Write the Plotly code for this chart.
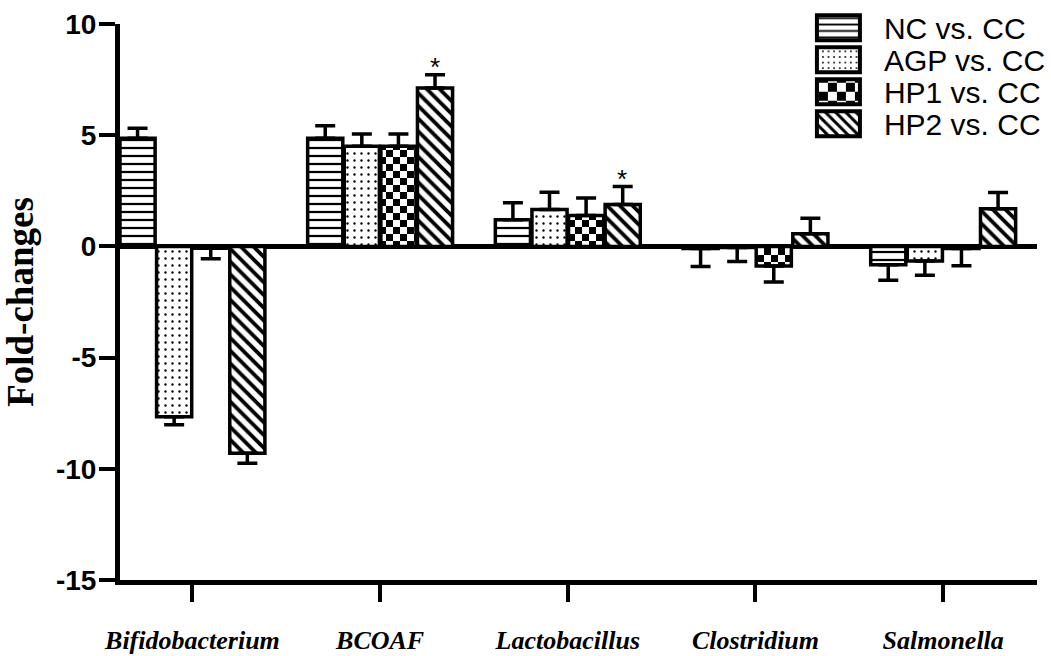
import plotly.graph_objects as go

# ---------------- data ----------------
categories = ["Bifidobacterium", "BCOAF", "Lactobacillus", "Clostridium", "Salmonella"]
series_names = ["NC vs. CC", "AGP vs. CC", "HP1 vs. CC", "HP2 vs. CC"]

nc_values = [4.86, 4.86, 1.20, -0.10, -0.82]
nc_errors = [0.45, 0.57, 0.76, 0.80, 0.70]

agp_values = [-7.66, 4.50, 1.66, -0.05, -0.66]
agp_errors = [0.36, 0.55, 0.77, 0.63, 0.64]

hp1_values = [-0.08, 4.50, 1.39, -0.88, -0.10]
hp1_errors = [0.47, 0.55, 0.79, 0.72, 0.77]

hp2_values = [-9.30, 7.12, 1.88, 0.57, 1.69]
hp2_errors = [0.45, 0.60, 0.81, 0.70, 0.73]

y_tick_values = [-15, -10, -5, 0, 5, 10]
y_tick_labels = ["-15", "-10", "-5", "0", "5", "10"]

# significance marks: (category, series index, mark)
significance_categories = ["BCOAF", "Lactobacillus"]
significance_series = [3, 3]
significance_marks = ["*", "*"]

# ---------------- styling ----------------
all_values = [nc_values, agp_values, hp1_values, hp2_values]
all_errors = [nc_errors, agp_errors, hp1_errors, hp2_errors]
pattern_styles = [
    dict(shape="-", size=8, solidity=0.28, fgcolor="#000000"),
    dict(shape=".", size=7, solidity=0.09, fgcolor="#000000"),
    dict(shape="+", size=8, solidity=0.3, fgcolor="#010101"),  # replaced by checkerboard below
    dict(shape="\\", size=9, solidity=0.42, fgcolor="#000000"),
]

fig = go.Figure()
for name, vals, errs, pat in zip(series_names, all_values, all_errors, pattern_styles):
    plus = [e if v >= 0 else 0 for v, e in zip(vals, errs)]
    minus = [e if v < 0 else 0 for v, e in zip(vals, errs)]
    fig.add_trace(go.Bar(
        name=name,
        x=categories,
        y=vals,
        marker=dict(
            color="#ffffff",
            line=dict(color="#000000", width=3.5),
            pattern=dict(fillmode="replace", bgcolor="#ffffff", **pat),
        ),
        error_y=dict(
            type="data", symmetric=False, array=plus, arrayminus=minus,
            color="#000000", thickness=3.5, width=10, visible=True,
        ),
    ))

# significance stars above the error bars
bar_slot_px = 36.3
for cat, si, mark in zip(significance_categories, significance_series, significance_marks):
    ci = categories.index(cat)
    top = all_values[si][ci] + all_errors[si][ci]
    fig.add_annotation(
        x=cat, y=top, xref="x", yref="y", text=mark, showarrow=False,
        xanchor="center", yanchor="bottom",
        xshift=(si - 1.5) * bar_slot_px, yshift=-9,
        font=dict(family="Liberation Sans, Arial", size=26, color="#000000"),
    )

fig.update_layout(
    width=1051, height=656,
    margin=dict(l=120, r=14, t=24, b=76, autoexpand=False),
    paper_bgcolor="#ffffff", plot_bgcolor="#ffffff",
    barmode="group", bargap=0.22, bargroupgap=0.04,
    showlegend=True,
    legend=dict(
        x=0.76, y=1.04, xanchor="left", yanchor="top",
        bgcolor="rgba(0,0,0,0)", borderwidth=0,
        font=dict(family="Liberation Sans, Arial", size=30, color="#000000"),
        traceorder="normal",
    ),
    font=dict(family="Liberation Sans, Arial", color="#000000"),
)

fig.update_xaxes(
    range=[-0.386, 4.5],
    showline=True, linecolor="#000000", linewidth=5,
    ticks="outside", ticklen=17, tickwidth=4, tickcolor="#000000",
    tickfont=dict(family="Liberation Serif, Times New Roman", size=26, weight="bold", style="italic", color="#000000"),
    ticklabelstandoff=16,
    showgrid=False, zeroline=False, fixedrange=True,
)

fig.update_yaxes(
    range=[-15, 10],
    tickmode="array", tickvals=y_tick_values, ticktext=y_tick_labels,
    showline=True, linecolor="#000000", linewidth=5,
    ticks="outside", ticklen=16, tickwidth=4, tickcolor="#000000",
    tickfont=dict(family="Liberation Sans, Arial", size=28, weight="bold", color="#000000"),
    ticklabelstandoff=-3,
    showgrid=False,
    zeroline=True, zerolinecolor="#000000", zerolinewidth=5,
    title=dict(text="Fold-changes", standoff=13,
               font=dict(family="Liberation Serif, Times New Roman", size=37, weight="bold", color="#000000")),
    fixedrange=True,
)

post_script = r"""
var gd = document.getElementById('{plot_id}');
document.body.style.margin = '0';
var NS = 'http://www.w3.org/2000/svg';
function checker(id, s) {
  var p = document.getElementById(id); if (!p) return;
  p.setAttribute('width', 2*s); p.setAttribute('height', 2*s);
  p.removeAttribute('patternTransform');
  while (p.firstChild) p.removeChild(p.firstChild);
  [[0,0,2*s,'#ffffff'],[0,0,s,'#000000'],[s,s,s,'#000000']].forEach(function(r){
    var e = document.createElementNS(NS, 'rect');
    e.setAttribute('x', r[0]); e.setAttribute('y', r[1]);
    e.setAttribute('width', r[2]); e.setAttribute('height', r[2]);
    e.setAttribute('fill', r[3]);
    p.appendChild(e);
  });
}
function pid(el){
  var f = (el.style && el.style.fill) || el.getAttribute('fill') || '';
  var m = /#([^'")\s]+)/.exec(f); return m ? m[1] : null;
}
var traces = gd.querySelectorAll('.barlayer .trace');
if (traces[2]) traces[2].querySelectorAll('path').forEach(function(el){ var id = pid(el); if (id) checker(id, 7); });
var sb = gd.querySelector('.legend .scrollbox'); if (sb) sb.removeAttribute('clip-path');
var items = gd.querySelectorAll('.legend .traces');
var y0 = null;
items.forEach(function(it, i){
  var m = /translate\(\s*([-\d.e]+)[ ,]+([-\d.e]+)\s*\)/.exec(it.getAttribute('transform') || '');
  if (m) {
    var x = parseFloat(m[1]), y = parseFloat(m[2]);
    if (y0 === null) y0 = y;
    it.setAttribute('transform', 'translate(' + x + ',' + (y0 + i*32) + ')');
  }
  var pth = it.querySelector('path.legendbar') || it.querySelector('.legendpoints path');
  if (pth) {
    pth.setAttribute('d', 'M-20,12.5H23V-12.5H-20Z');
    pth.style.strokeWidth = '4px';
    if (i === 2) { var id = pid(pth); if (id) checker(id, 9); }
  }
  var t = it.querySelector('text.legendtext'); if (t) t.setAttribute('x', 67);
});
"""

fig.write_html("out.html", config={"responsive": False, "displayModeBar": False}, post_script=post_script)
